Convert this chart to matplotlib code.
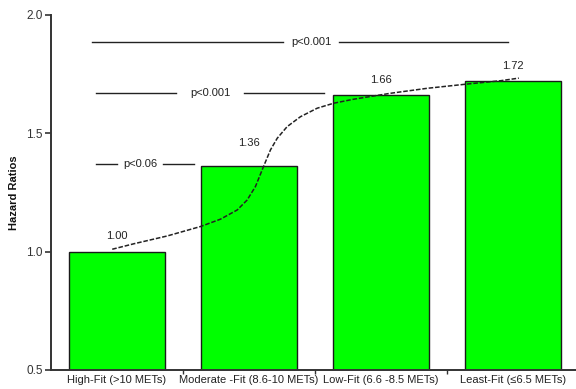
import numpy as np
import matplotlib
matplotlib.use("Agg")
import matplotlib.pyplot as plt

plt.rcParams["font.family"] = ["Liberation Sans", "DejaVu Sans"]

categories = ["High-Fit (>10 METs)", "Moderate -Fit (8.6-10 METs)",
              "Low-Fit (6.6 -8.5 METs)", "Least-Fit (\u22646.5 METs)"]
hazard = [1.00, 1.36, 1.66, 1.72]

# trend curve drawn through the bar tops
trend_x = [-0.036, 0.127, 0.380, 0.633, 0.784, 0.911, 0.986, 1.049, 1.112,
           1.163, 1.214, 1.289, 1.390, 1.517, 1.642, 1.794, 2.072, 2.350,
           2.653, 2.905, 3.044]
trend_y = [1.010, 1.033, 1.066, 1.106, 1.137, 1.176, 1.218, 1.275, 1.362,
           1.430, 1.479, 1.528, 1.570, 1.606, 1.627, 1.644, 1.669, 1.690,
           1.708, 1.722, 1.733]

# significance brackets: (y, x_start, x_end, gap_start, gap_end, label)
brackets = [
    (1.886, -0.19, 2.96, 1.26, 1.68, "p<0.001"),
    (1.670, -0.16, 1.57, 0.45, 0.96, "p<0.001"),
    (1.370, -0.16, 0.58, 0.00, 0.35, "p<0.06"),
]

fig = plt.figure(figsize=(5.76, 3.89), dpi=100)
ax = fig.add_axes([0.0885, 0.049, 0.9167, 0.9126])

x = np.arange(len(categories))
ax.bar(x, hazard, width=0.72, bottom=0, color="#00ff00",
       edgecolor="#1a1a1a", linewidth=1.0, zorder=2)

label_offset = [0.065, 0.10, 0.065, 0.065]
for xi, v, off in zip(x, hazard, label_offset):
    ax.text(xi, v + off, f"{v:.2f}", ha="center", va="center",
            fontsize=8, color="#222222", zorder=4)

ax.plot(trend_x, trend_y, color="#222222", linewidth=1.1,
        dashes=(3, 1.2), zorder=3)

for y, x0, x1, g0, g1, lab in brackets:
    ax.plot([x0, g0], [y, y], color="#222222", linewidth=1.0)
    ax.plot([g1, x1], [y, y], color="#222222", linewidth=1.0)
    ax.text((g0 + g1) / 2, y, lab, ha="center", va="center",
            fontsize=8, color="#222222")

ax.set_xlim(-0.5, 3.5)
ax.set_ylim(0.5, 2.0)
ax.set_yticks([0.5, 1.0, 1.5, 2.0])
ax.set_yticklabels(["0.5", "1.0", "1.5", "2.0"])
ax.set_xticks([0.5, 1.5, 2.5])
ax.set_xticklabels([])
ax.set_xticks(x, minor=True)
ax.set_xticklabels(categories, minor=True)
ax.tick_params(axis="x", which="minor", length=0, labelsize=8,
               pad=4, colors="#222222")
ax.tick_params(axis="x", which="major", length=3, width=1.0,
               color="#333333")
ax.tick_params(axis="y", length=4, width=1.2, labelsize=8.5,
               colors="#333333", pad=2)

for side in ["top", "right"]:
    ax.spines[side].set_visible(False)
for side in ["left", "bottom"]:
    ax.spines[side].set_color("#333333")
    ax.spines[side].set_linewidth(1.4)

ax.set_ylabel("Hazard Ratios", fontsize=8, fontweight="bold",
              color="#111111", labelpad=5)

fig.savefig("out.png", dpi=100)
